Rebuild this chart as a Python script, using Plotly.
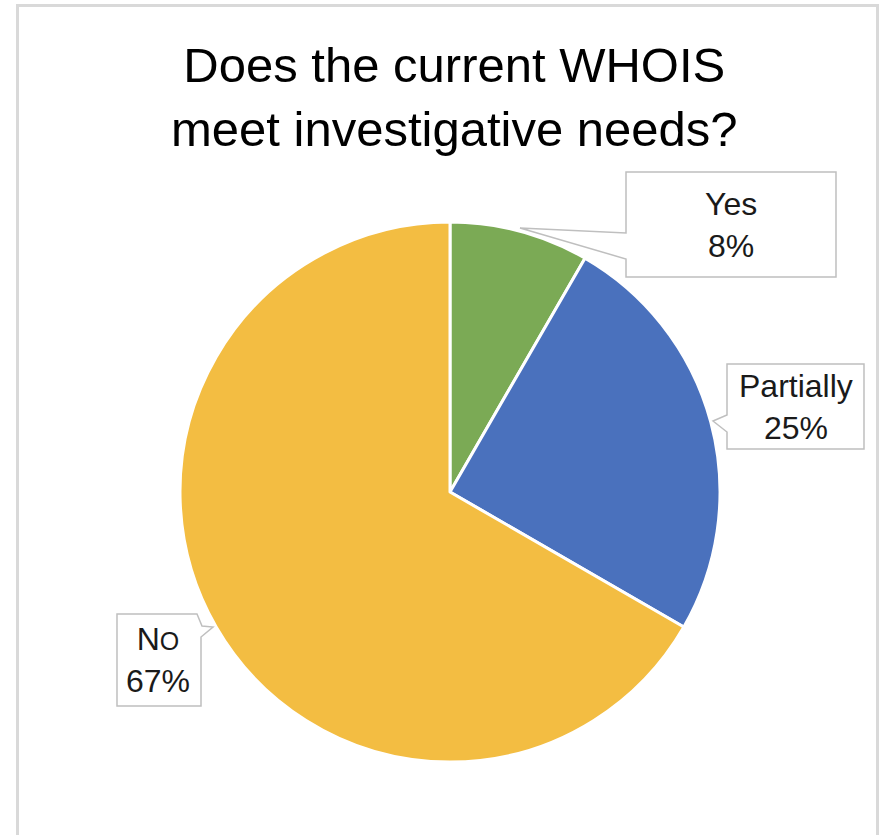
import plotly.graph_objects as go

# ---- data ----
categories = ["Yes", "Partially", "No"]
counts = [1, 3, 8]
colors = ["#7BAA55", "#4A71BD", "#F3BD42"]
title_lines = ["Does the current WHOIS", "meet investigative needs?"]

W, H = 881, 835

def px(x):
    return x / W

def py(y):
    return 1 - y / H

total = sum(counts)
pcts = [round(c / total * 100) for c in counts]

# pie geometry (pixels)
cx, cy, r = 450, 492, 270

fig = go.Figure(go.Pie(
    labels=categories,
    values=counts,
    sort=False,
    direction="clockwise",
    rotation=0,
    marker=dict(colors=colors, line=dict(color="white", width=3)),
    textinfo="none",
    hoverinfo="label+percent",
    showlegend=False,
    domain=dict(x=[px(cx - r), px(cx + r)], y=[py(cy + r), py(cy - r)]),
))

def path_from(points):
    s = "M " + " L ".join(f"{px(x):.5f},{py(y):.5f}" for x, y in points) + " Z"
    return s

shapes = []
# outer chart border (no bottom edge visible)
shapes.append(dict(
    type="path", xref="paper", yref="paper",
    path=f"M {px(17.5):.5f},{py(845):.5f} L {px(17.5):.5f},{py(5.5):.5f} "
         f"L {px(877.5):.5f},{py(5.5):.5f} L {px(877.5):.5f},{py(845):.5f}",
    line=dict(color="#D9D9D9", width=3), layer="below",
))

callouts = [
    # Yes
    [(626, 172), (836, 172), (836, 277), (626, 277), (626, 259), (520, 228), (626, 233)],
    # Partially
    [(727, 364), (864, 364), (864, 449), (727, 449), (727, 432), (713, 421), (727, 415)],
    # No
    [(117, 614), (197, 614), (202, 626), (213, 627), (201, 637), (201, 706), (117, 706)],
]
for pts in callouts:
    shapes.append(dict(
        type="path", xref="paper", yref="paper", path=path_from(pts),
        fillcolor="white", line=dict(color="#BFBFBF", width=1.5), layer="above",
    ))

font_family = "Liberation Sans, Arial, sans-serif"
annotations = [
    dict(text="<br>".join(title_lines), x=px(454), y=py(97), xref="paper", yref="paper",
         xanchor="center", yanchor="middle", showarrow=False,
         font=dict(family=font_family, size=49, color="black")),
]

label_texts = [
    f"{categories[0]}<br>{pcts[0]}%",
    f"{categories[1]}<br>{pcts[1]}%",
    f"{categories[2][0]}<span style='font-size:25px'>{categories[2][1:].upper()}</span><br>{pcts[2]}%",
]
label_pos = [(731, 225), (795.5, 407), (158, 660)]
for t, (x, y) in zip(label_texts, label_pos):
    annotations.append(dict(
        text=t, x=px(x), y=py(y), xref="paper", yref="paper",
        xanchor="center", yanchor="middle", showarrow=False,
        font=dict(family=font_family, size=32, color="#1A1A1A"),
    ))

fig.update_layout(
    width=W, height=H,
    margin=dict(l=0, r=0, t=0, b=0),
    paper_bgcolor="white", plot_bgcolor="white",
    shapes=shapes, annotations=annotations,
)

fig.write_html("out.html")
